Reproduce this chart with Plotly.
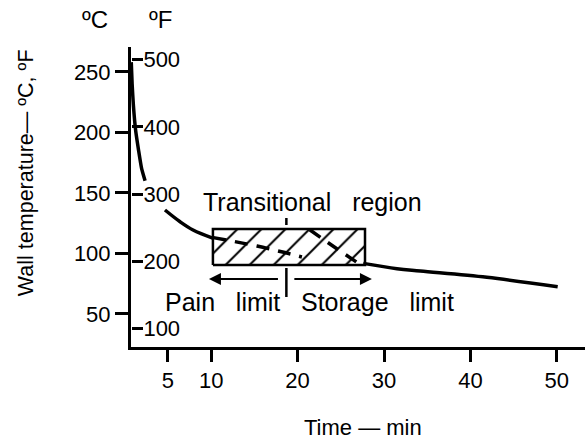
import plotly.graph_objects as go

# ---- data ----
curve_a_t = [0.75, 0.85, 1.0, 1.25, 1.6, 1.95, 2.35]
curve_a_T = [258, 240, 222, 202, 185, 170, 160]
curve_b_t = [4.65, 6.4, 7.9, 10.25]
curve_b_T = [135.8, 126.1, 119.3, 112.4]
dash_a_t = [10.25, 12.5, 15.3, 18.0, 20.5]
dash_a_T = [113, 110, 106, 101.5, 97]
dash_b_t = [21.4, 24.5, 27.2]
dash_b_T = [119.5, 104, 91]
curve_c_t = [27.6, 31.5, 34.2, 41.9, 50.1]
curve_c_T = [91.7, 87.3, 85.4, 80.2, 72.4]

box_t = [10.2, 27.8]
box_T = [90.3, 120.1]

x_ticks = [5, 10, 20, 30, 40, 50]
c_ticks = [50, 100, 150, 200, 250]
f_ticks = [100, 200, 300, 400, 500]

x_range = [0.72, 53.26]
c_range = [22.6, 270.5]
f_range = [c * 9 / 5 + 32 for c in c_range]

divider_t = 18.7
divider_upper_T = [123.4, 129.2]
divider_lower_T = [63.9, 87.9]
arrow_T = 78.8
left_arrow_t = [17.9, 9.74]   # tail, head
right_arrow_t = [19.45, 28.6]

FONT = "Liberation Sans, Arial, sans-serif"
SP3 = "\u00a0\u00a0\u00a0"

fig = go.Figure()

# hatched box
fig.add_trace(go.Scatter(
    x=[box_t[0], box_t[1], box_t[1], box_t[0], box_t[0]],
    y=[box_T[0], box_T[0], box_T[1], box_T[1], box_T[0]],
    mode="lines", fill="toself",
    fillcolor="white",
    fillpattern=dict(shape="/", fgcolor="black", fgopacity=1, bgcolor="white",
                     size=17, solidity=0.12),
    line=dict(color="black", width=2.5), hoverinfo="skip", showlegend=False))

for tt, TT, dash, sm in [(curve_a_t, curve_a_T, "solid", 0.5), (curve_b_t, curve_b_T, "solid", 1),
                         (curve_c_t, curve_c_T, "solid", 1),
                         (dash_a_t, dash_a_T, "13px,9px", 1), (dash_b_t, dash_b_T, "13px,9px", 1)]:
    fig.add_trace(go.Scatter(x=tt, y=TT, mode="lines",
                             line=dict(color="black", width=3.5, dash=dash, shape="spline", smoothing=sm),
                             hoverinfo="skip", showlegend=False))

# dummy trace for the °F axis
fig.add_trace(go.Scatter(x=[None], y=[None], yaxis="y2", showlegend=False, hoverinfo="skip"))

fig.add_shape(type="line", x0=divider_t, x1=divider_t, y0=divider_upper_T[0], y1=divider_upper_T[1],
              line=dict(color="black", width=2.5))
fig.add_shape(type="line", x0=divider_t, x1=divider_t, y0=divider_lower_T[0], y1=divider_lower_T[1],
              line=dict(color="black", width=2.5))

for tail, head in [left_arrow_t, right_arrow_t]:
    fig.add_annotation(x=head, y=arrow_T, ax=tail, ay=arrow_T, xref="x", yref="y",
                       axref="x", ayref="y", text="", showarrow=True,
                       arrowhead=2, arrowsize=1.2, arrowwidth=2, arrowcolor="black")

txt_font = dict(family=FONT, size=25, color="black")
fig.add_annotation(x=21.7, y=142.4, xref="x", yref="y", text="Transitional" + SP3 + "region",
                   showarrow=False, font=txt_font, xanchor="center", yanchor="middle")
fig.add_annotation(x=11.3, y=59.8, xref="x", yref="y", text="Pain" + SP3 + "limit",
                   showarrow=False, font=txt_font, xanchor="center", yanchor="middle")
fig.add_annotation(x=29.3, y=59.5, xref="x", yref="y", text="Storage" + SP3 + "limit",
                   showarrow=False, font=txt_font, xanchor="center", yanchor="middle")

fig.add_annotation(x=-0.079, y=1.09, xref="paper", yref="paper", text="ºC",
                   showarrow=False, font=dict(family=FONT, size=24, color="black"),
                   xanchor="center", yanchor="middle")
fig.add_annotation(x=0.064, y=1.09, xref="paper", yref="paper", text="ºF",
                   showarrow=False, font=dict(family=FONT, size=24, color="black"),
                   xanchor="center", yanchor="middle")
fig.add_annotation(x=-0.231, y=0.58, xref="paper", yref="paper", text="Wall temperature\u2014\u00a0ºC, ºF",
                   textangle=-90, showarrow=False, font=dict(family=FONT, size=21.5, color="black"),
                   xanchor="center", yanchor="middle")
fig.add_annotation(x=0.511, y=-0.267, xref="paper", yref="paper", text="Time\u00a0\u2014\u00a0min",
                   showarrow=False, font=dict(family=FONT, size=22, color="black"),
                   xanchor="center", yanchor="middle")

tick_font = dict(family=FONT, size=22, color="black")
fig.update_layout(
    width=585, height=443,
    margin=dict(l=131, r=0, t=47, b=96),
    paper_bgcolor="white", plot_bgcolor="white",
    xaxis=dict(range=x_range, tickvals=x_ticks, ticktext=[str(v) for v in x_ticks],
               showgrid=False, zeroline=False, showline=True, linecolor="black", linewidth=3,
               ticks="outside", ticklen=12, tickwidth=2.5, tickcolor="black", tickfont=tick_font),
    yaxis=dict(range=c_range, tickvals=c_ticks, ticktext=[str(v) for v in c_ticks],
               showgrid=False, zeroline=False, showline=True, linecolor="black", linewidth=3,
               ticks="outside", ticklen=13, tickwidth=2.5, tickcolor="black", tickfont=tick_font),
    yaxis2=dict(range=f_range, tickvals=f_ticks, ticktext=[str(v) for v in f_ticks],
                overlaying="y", side="right", anchor="free", position=0,
                showgrid=False, zeroline=False, showline=False,
                ticks="outside", ticklen=11, tickwidth=2.5, tickcolor="black",
                ticklabelstandoff=-4, tickfont=tick_font),
)

fig.write_html("out.html")
